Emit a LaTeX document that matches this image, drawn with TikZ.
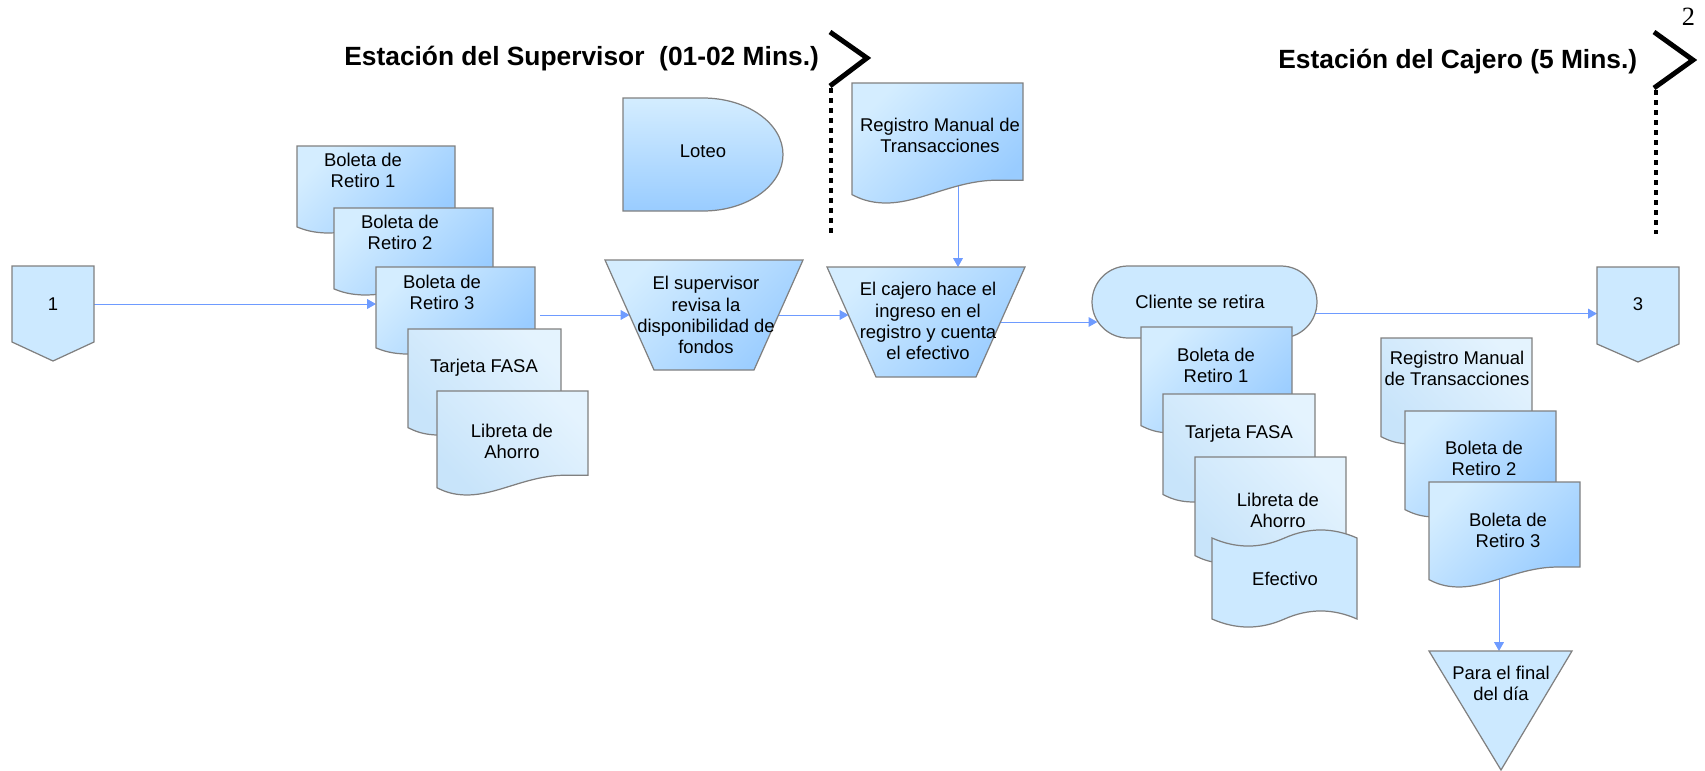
\documentclass[tikz,border=0pt]{standalone}
\usepackage{fontspec}
\setmainfont{Liberation Sans}
\newfontfamily\numserif{Liberation Serif}
\usetikzlibrary{shapes.geometric,shapes.misc,arrows.meta,calc}
\pgfdeclarelayer{bg}
\pgfsetlayers{bg,main}
\definecolor{pale}{RGB}{204,233,255}
\definecolor{lite}{RGB}{212,237,255}
\definecolor{deep}{RGB}{153,204,255}
\definecolor{paletwo}{RGB}{228,243,254}
\definecolor{paleone}{RGB}{200,228,250}
\definecolor{edge}{RGB}{128,128,128}
\definecolor{link}{RGB}{110,155,255}

\tikzset{
  bbox/.style={rectangle, inner sep=0pt, outer sep=0pt, draw=none},
  outl/.style={draw=edge, line width=0.7pt},
  docA/.style={outl, top color=lite, bottom color=deep, shading angle=45},
  docB/.style={outl, top color=paletwo, bottom color=paleone, shading angle=-45},
  flat/.style={outl, fill=pale},
  vgrad/.style={outl, top color=lite, bottom color=deep},
  txt/.style={align=center, inner sep=0pt, font=\fontsize{10.5}{12}\selectfont},
  ttl/.style={inner sep=0pt, font=\bfseries\fontsize{15}{18}\selectfont},
  arr/.style={draw=link, line width=0.55pt, -{Triangle[length=5pt,width=5.5pt]}},
  chev/.style={draw=black, line width=2.8pt, line join=miter, line cap=butt},
  dotline/.style={draw=black, line width=2.8pt, dash pattern=on 2.85pt off 2.85pt}
}

% document shape: x y w H style name
\newcommand\docshape[6]{%
  \path[#5] (#1,#2) -- ({#1+#3},#2) -- ({#1+#3},{#2+0.81*#4}) -- ({#1+0.85*#3},{#2+0.81*#4})
    .. controls ({#1+0.6*#3},{#2+0.81*#4}) and ({#1+0.4*#3},{#2+#4}) .. ({#1+0.2*#3},{#2+#4})
    .. controls ({#1+0.1*#3},{#2+#4}) and ({#1+0.04*#3},{#2+0.96*#4}) .. (#1,{#2+0.93*#4}) -- cycle;
  \node[bbox, minimum width={#3*0.02cm}, minimum height={#4*0.02cm}] (#6) at ({#1+#3/2},{#2+#4/2}) {};}

% off-page connector: x y w side-height tip-height name
\newcommand\offpage[6]{%
  \path[flat] (#1,#2) -- ({#1+#3},#2) -- ({#1+#3},{#2+#4}) -- ({#1+#3/2},{#2+#5}) -- (#1,{#2+#4}) -- cycle;
  \node[bbox, minimum width={#3*0.02cm}, minimum height={#4*0.02cm}] (#6) at ({#1+#3/2},{#2+#4/2}) {};}

% manual operation (inverted trapezoid): x y w h inset name
\newcommand\manop[6]{%
  \path[docA] (#1,#2) -- ({#1+#3},#2) -- ({#1+#3-#5},{#2+#4}) -- ({#1+#5},{#2+#4}) -- cycle;
  \node[bbox, minimum width={#3*0.02cm}, minimum height={#4*0.02cm}] (#6) at ({#1+#3/2},{#2+#4/2}) {};
  \coordinate (#6-w) at ({#1+#5/2},{#2+#4/2});
  \coordinate (#6-e) at ({#1+#3-#5/2},{#2+#4/2});}

\begin{document}
\begin{tikzpicture}[x=0.02cm, y=-0.02cm]
\useasboundingbox (0,0) rectangle (1705,771);

% titles and page number
\node[ttl, anchor=base west] (tit1) at (344,65) {Estación del Supervisor\ \ (01-02 Mins.)};
\node[ttl, anchor=base west] (tit2) at (1278,68) {Estación del Cajero (5 Mins.)};
\node[inner sep=0pt, anchor=base, font=\numserif\fontsize{15}{18}\selectfont] (pnum) at (1688.5,25) {2};

% station markers
\draw[chev] (830,32) -- (867,58) -- (830,86);
\draw[dotline] (831,88) -- (831,234);
\draw[chev] (1654,32) -- (1693,60) -- (1654,88);
\draw[dotline] (1656,90) -- (1656,234);

% connector 1
\offpage{12}{266}{82}{76}{95}{c1}
\node[txt] (c1t) at (53,304) {1};

% left stack
\docshape{297}{146}{158}{87}{docA}{b1L}
\node[txt] (b1Lt) at (363,170.5) {Boleta de\\Retiro 1};
\docshape{334}{208}{159}{87}{docA}{b2L}
\node[txt] (b2Lt) at (400,232.5) {Boleta de\\Retiro 2};
\docshape{376}{267}{159}{87}{docA}{b3L}
\node[txt] (b3Lt) at (442,292) {Boleta de\\Retiro 3};
\docshape{408}{329}{153}{106}{docB}{tarL}
\node[txt] (tarLt) at (484,368) {Tarjeta FASA};
\docshape{437}{391}{151}{104}{docB}{libL}
\node[txt] (libLt) at (512,441.5) {Libreta de\\Ahorro};

% Loteo (delay)
\path[vgrad] (623,98) -- (703,98) .. controls (747.2,98) and (783,123.3) .. (783,154.5)
  .. controls (783,185.7) and (747.2,211) .. (703,211) -- (623,211) -- cycle;
\node[bbox, minimum width=3.2cm, minimum height=2.26cm] (loteo) at (703,154.5) {};
\node[txt] (loteot) at (703,151) {Loteo};

% manual operations
\manop{605}{260}{198}{110}{49}{t1}
\node[txt] (t1t) at (706,315) {El supervisor\\revisa la\\disponibilidad de\\fondos};
\manop{827}{267}{198}{110}{49}{t2}
\node[txt] (t2t) at (928,321) {El cajero hace el\\ingreso en el\\registro y cuenta\\el efectivo};

% register (top)
\docshape{852}{83}{171}{120}{docA}{regT}
\node[txt] (regTt) at (940,135.5) {Registro Manual de\\Transacciones};

% Cliente se retira
\node[rounded rectangle, minimum width=4.5cm, minimum height=1.44cm, inner sep=0pt, outer sep=0pt, flat] (cliente) at (1204.5,302) {};
\node[txt] (clientet) at (1200,302) {Cliente se retira};

% middle-right stack
\docshape{1141}{327}{151}{106}{docA}{b1R}
\node[txt] (b1Rt) at (1216,365.5) {Boleta de\\Retiro 1};
\docshape{1163}{394}{152}{108}{docB}{tarR}
\node[txt] (tarRt) at (1239,434) {Tarjeta FASA};
\docshape{1195}{457}{151}{106}{docB}{libR}
\node[txt] (libRt) at (1278,510) {Libreta de\\Ahorro};

% Efectivo (punched tape)
\path[flat] (1212,538) .. controls (1236.2,548.7) and (1260.3,548.7) .. (1284.5,538)
  .. controls (1308.7,527.3) and (1332.8,527.3) .. (1357,538) -- (1357,619)
  .. controls (1332.8,608.3) and (1308.7,608.3) .. (1284.5,619)
  .. controls (1260.3,629.7) and (1236.2,629.7) .. (1212,619) -- cycle;
\node[bbox, minimum width=2.9cm, minimum height=1.62cm] (efect) at (1284.5,578.5) {};
\node[txt] (efectt) at (1285,579) {Efectivo};

% connector 3
\offpage{1597}{267}{82}{77}{95}{c3}
\node[txt] (c3t) at (1638,304) {3};

% right stack
\docshape{1381}{338}{151}{106}{docB}{regR}
\node[txt] (regRt) at (1457,368.5) {Registro Manual\\de Transacciones};
\docshape{1405}{411}{151}{106}{docA}{b2R}
\node[txt] (b2Rt) at (1484,458.5) {Boleta de\\Retiro 2};
\docshape{1429}{482}{151}{105}{docA}{b3R}
\node[txt] (b3Rt) at (1508,530.5) {Boleta de\\Retiro 3};

% Para el final del dia (merge triangle)
\path[flat] (1429,651) -- (1572,651) -- (1501,770) -- cycle;
\node[bbox, minimum width=2.86cm, minimum height=2.38cm] (tri) at (1500.5,710.5) {};
\node[txt] (trit) at (1501,683.5) {Para el final\\del día};

% connectors
\coordinate (regOut) at ([xshift=0.41cm]regT.center);
\coordinate (b3Out) at ([xshift=-0.11cm]b3R.center);
\begin{pgfonlayer}{bg}
\draw[arr] (c1.east) -- (c1.east -| b3L.west);
\draw[arr, shorten <=0.1cm] (b3L.east |- t1-w) -- (t1-w);
\draw[arr, shorten >=0.06cm] (t1-e) -- (t1-e -| t2-w);
\draw[arr] (t2-e) -- (t2-e -| cliente.190);
\draw[arr] (cliente.-6) -- (cliente.-6 -| c3.west);
\draw[arr] (regOut) -- (regOut |- t2.north);
\draw[arr] (b3Out) -- (b3Out |- tri.north);
\end{pgfonlayer}
\end{tikzpicture}
\end{document}
